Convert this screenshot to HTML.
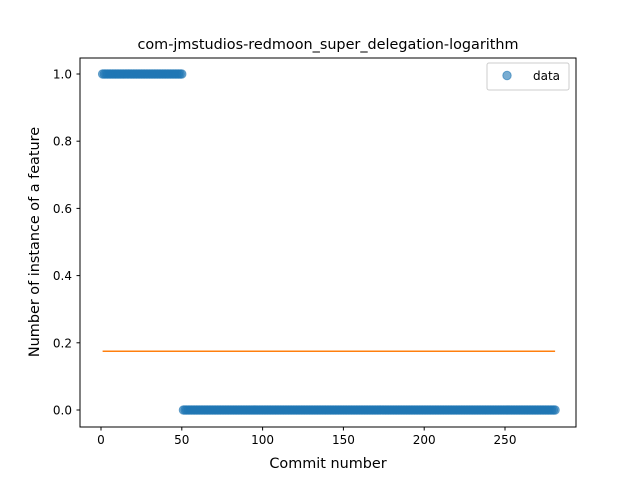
<!DOCTYPE html>
<html><head><meta charset="utf-8"><style>
body{margin:0;background:#fff;}
svg text{font-family:"DejaVu Sans","Liberation Sans",sans-serif;}
</style></head><body>
<svg id="chart" width="640" height="480" viewBox="0 0 640 480" xmlns="http://www.w3.org/2000/svg">
<rect width="640" height="480" fill="#fff"/>
<text x="328" y="49" font-size="14.4" text-anchor="middle">com-jmstudios-redmoon_super_delegation-logarithm</text>
<g id="marks"></g>
<rect x="80" y="58" width="496" height="369" fill="none" stroke="#000" stroke-width="1"/>
<g id="xt"></g><g id="yt"></g>
<text x="328" y="468" font-size="14.4" text-anchor="middle">Commit number</text>
<text transform="translate(39,242) rotate(-90)" font-size="14.4" text-anchor="middle">Number of instance of a feature</text>
<g>
<rect x="487" y="63" width="82" height="27" rx="2" fill="#fff" stroke="#ccc"/>
<circle cx="507" cy="75.5" r="4.2" fill="#1f77b4" fill-opacity="0.6" stroke="#1f77b4" stroke-opacity="0.6"/>
<text x="533" y="80" font-size="12">data</text>
</g>
</svg>
<script>
const ys=[
1,1,1,1,1,1,1,1,1,1,
1,1,1,1,1,1,1,1,1,1,
1,1,1,1,1,1,1,1,1,1,
1,1,1,1,1,1,1,1,1,1,
1,1,1,1,1,1,1,1,1,1,
0,0,0,0,0,0,0,0,0,0,
0,0,0,0,0,0,0,0,0,0,
0,0,0,0,0,0,0,0,0,0,
0,0,0,0,0,0,0,0,0,0,
0,0,0,0,0,0,0,0,0,0,
0,0,0,0,0,0,0,0,0,0,
0,0,0,0,0,0,0,0,0,0,
0,0,0,0,0,0,0,0,0,0,
0,0,0,0,0,0,0,0,0,0,
0,0,0,0,0,0,0,0,0,0,
0,0,0,0,0,0,0,0,0,0,
0,0,0,0,0,0,0,0,0,0,
0,0,0,0,0,0,0,0,0,0,
0,0,0,0,0,0,0,0,0,0,
0,0,0,0,0,0,0,0,0,0,
0,0,0,0,0,0,0,0,0,0,
0,0,0,0,0,0,0,0,0,0,
0,0,0,0,0,0,0,0,0,0,
0,0,0,0,0,0,0,0,0,0,
0,0,0,0,0,0,0,0,0,0,
0,0,0,0,0,0,0,0,0,0,
0,0,0,0,0,0,0,0,0,0,
0,0,0,0,0,0,0,0,0,0,
0];
const meanValue=[0.175];
const xTicks=[0,50,100,150,200,250];
const yTicks=[0.0,0.2,0.4,0.6,0.8,1.0];
const NS="http://www.w3.org/2000/svg";
const X=v=>101+(v)*1.616;
const Y=v=>410-v*336;
const mk=(t,a,p)=>{const e=document.createElementNS(NS,t);for(const k in a)e.setAttribute(k,a[k]);p.appendChild(e);return e;};
const marks=document.getElementById('marks');
ys.forEach((v,i)=>{
  const c=mk('circle',{cx:X(i+1),cy:Y(v),r:4.2,fill:'#1f77b4','fill-opacity':0.6,stroke:'#1f77b4','stroke-opacity':0.6},marks);
  
  
});
const ln=mk('line',{x1:X(1),x2:X(ys.length),y1:Y(meanValue[0]),y2:Y(meanValue[0]),stroke:'#ff7f0e','stroke-width':1.5},marks);


const xt=document.getElementById('xt');
xTicks.forEach(t=>{
  mk('line',{x1:X(t),x2:X(t),y1:427,y2:430.5,stroke:'#000'},xt);
  const tx=mk('text',{x:X(t),y:444,'font-size':12,'text-anchor':'middle'},xt);
  tx.textContent=t;
  
  
});
const yt=document.getElementById('yt');
yTicks.forEach(t=>{
  mk('line',{x1:76.5,x2:80,y1:Y(t),y2:Y(t),stroke:'#000'},yt);
  const tx=mk('text',{x:72,y:Y(t)+4.5,'font-size':12,'text-anchor':'end'},yt);
  tx.textContent=t.toFixed(1);
  
  
});
</script>
</body></html>
